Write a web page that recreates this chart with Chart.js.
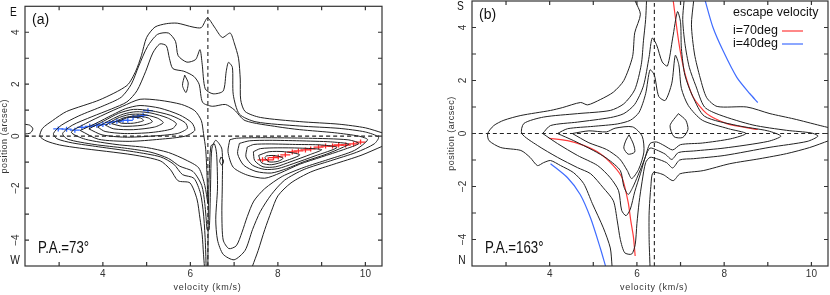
<!DOCTYPE html>
<html>
<head>
<meta charset="utf-8">
<script src="https://cdn.jsdelivr.net/npm/chart.js"></script>
<style>
  body { margin: 0; background: #fff; }
  #wrap { position: relative; width: 830px; height: 295px; }
  canvas { position: absolute; top: 0; }
</style>
</head>
<body>
<div id="wrap">
  <canvas id="chartA" width="415" height="295" style="left:0"></canvas>
  <canvas id="chartB" width="415" height="295" style="left:415px"></canvas>
</div>
<script>
// axes
const xTicks = [3, 4, 5, 6, 7, 8, 9, 10];
const yTicks = [-4, -3, -2, -1, 0, 1, 2, 3, 4];
const xTickLabels = [4, 6, 8, 10];
const yTickLabels = [-4, -2, 0, 2, 4];
const vSys = 6.4;

// ---- panel (a), P.A. = 73 deg : contours [velocity, position]
const aOuter = [[6.32,-5],[6.3,-4.55],[6.27,-3.8],[6.22,-3.18],[6.15,-2.42],[5.99,-1.8],[5.72,-1.72],[5.54,-1.28],[5.31,-0.95],[4.69,-0.72],[3.47,-0.46],[3.01,-0.34],[2.7,-0.18],[2.56,0],[2.62,0.3],[2.85,0.6],[3.17,0.95],[3.93,1.4],[4.55,1.95],[4.75,2.5],[4.88,3.1],[5.0,3.8],[5.19,4.2],[5.45,4.33],[5.7,4.35],[6.06,4.2],[6.25,4.18],[6.39,4.55],[6.55,4.2],[6.73,3.8],[6.91,3.97],[7.0,3.6],[7.1,3.0],[7.14,2.2],[7.15,1.4],[7.25,0.95],[7.6,0.72],[8.5,0.56],[9.4,0.46],[10.0,0.32],[10.4,0.12]];
const aOuterR = [[10.4,-0.38],[9.9,-0.74],[9.28,-1.08],[8.75,-1.38],[8.3,-1.8],[8.0,-2.3],[7.85,-2.9],[7.7,-3.6],[7.55,-4.4],[7.42,-5]];
const aL2 = [[6.36,-5],[6.34,-4],[6.3,-3],[6.23,-2.2],[6.08,-1.62],[5.82,-1.48],[5.62,-1.08],[5.32,-0.8],[4.7,-0.6],[3.9,-0.41],[3.3,-0.26],[2.95,-0.1],[2.87,0.1],[3.05,0.42],[3.45,0.78],[4.0,1.16],[4.42,1.5],[4.65,2.0],[4.82,2.7],[5.02,3.45],[5.25,3.92],[5.5,3.97],[5.66,3.65],[5.72,3.1],[5.92,2.85],[6.12,2.95],[6.22,3.33],[6.27,2.77],[6.34,1.82],[6.52,1.63],[6.75,1.74],[6.82,2.5],[6.87,2.84],[6.96,2.65],[6.98,1.6],[7.12,0.85],[7.5,0.55],[8.5,0.39],[9.4,0.3],[10.0,0.16],[10.3,-0.04],[10.2,-0.3],[9.8,-0.62],[9.2,-0.95],[8.6,-1.28],[8.15,-1.7],[7.85,-2.25],[7.6,-2.9],[7.42,-3.6],[7.25,-4.4],[7.0,-4.76],[6.75,-4.55],[6.62,-4.0],[6.58,-3.2],[6.62,-2.0],[6.6,-0.7],[6.55,-0.3],[6.47,-0.38],[6.43,-1.5],[6.41,-3],[6.4,-5]];
const aL3 = [[6.38,-3.6],[6.33,-2.6],[6.26,-1.9],[6.06,-1.36],[5.76,-1.16],[5.5,-0.86],[5.1,-0.62],[4.5,-0.46],[3.8,-0.32],[3.2,-0.12],[3.08,0.1],[3.3,0.42],[3.75,0.75],[4.2,1.05],[4.55,1.32],[4.78,1.75],[4.98,2.5],[5.14,3.2],[5.3,3.55],[5.45,3.48],[5.52,3.0],[5.6,2.6],[5.85,2.5],[6.08,2.3],[6.2,2.0],[6.28,1.3],[6.5,1.15],[6.8,1.22],[7.0,1.02],[7.25,0.6],[8.0,0.36],[8.5,0.25],[9.3,0.13],[9.85,0.0],[10.05,-0.14],[9.75,-0.55],[9.15,-0.9],[8.6,-1.2],[8.1,-1.55],[7.7,-2.02],[7.45,-2.5],[7.3,-3.1],[7.18,-3.7],[7.05,-4.22],[6.88,-4.33],[6.75,-4.0],[6.72,-3.0],[6.73,-1.8],[6.72,-0.5],[6.58,-0.16],[6.49,-0.5],[6.46,-2.0],[6.43,-3.6],[6.38,-3.6]];
const aL4 = [[6.4,-2.6],[6.33,-1.9],[6.19,-1.22],[5.9,-0.92],[5.5,-0.63],[5.0,-0.44],[4.3,-0.32],[3.6,-0.12],[3.28,0.15],[3.6,0.48],[4.05,0.85],[4.45,1.15],[4.85,1.42],[5.3,1.38],[5.8,1.22],[6.1,0.98],[6.25,0.6],[6.3,0.1],[6.35,-0.5],[6.38,-1.5],[6.4,-2.6]];
const aB1 = [[3.48,0.22],[3.85,0.5],[4.22,0.82],[4.52,1.06],[4.85,1.18],[5.3,1.08],[5.75,0.82],[6.03,0.52],[6.1,0.22],[5.88,0.0],[5.3,-0.12],[4.6,-0.2],[3.9,-0.12],[3.48,0.22]];
const aB2 = [[3.68,0.28],[4.02,0.58],[4.36,0.88],[4.7,1.03],[5.1,0.98],[5.55,0.8],[5.88,0.52],[5.93,0.3],[5.7,0.1],[5.1,0.0],[4.5,-0.04],[3.98,0.05],[3.68,0.28]];
const aB3 = [[3.88,0.35],[4.18,0.63],[4.47,0.85],[4.76,0.94],[5.1,0.89],[5.48,0.7],[5.68,0.48],[5.58,0.28],[5.1,0.14],[4.5,0.1],[4.05,0.18],[3.88,0.35]];
const aB4 = [[4.06,0.42],[4.32,0.68],[4.6,0.83],[4.9,0.84],[5.24,0.7],[5.38,0.52],[5.18,0.35],[4.7,0.25],[4.25,0.28],[4.06,0.42]];
const aB5 = [[4.2,0.48],[4.47,0.7],[4.75,0.78],[5.04,0.7],[5.13,0.55],[4.9,0.42],[4.45,0.38],[4.2,0.48]];
const aB6 = [[4.34,0.56],[4.6,0.73],[4.86,0.7],[4.93,0.6],[4.7,0.5],[4.42,0.5],[4.34,0.56]];
const aR1 = [[6.9,-0.14],[6.86,-0.6],[6.98,-1.2],[7.3,-1.5],[7.7,-1.62],[8.05,-1.42],[8.5,-1.08],[9.0,-0.8],[9.5,-0.52],[9.85,-0.28],[9.6,-0.14],[8.7,-0.08],[7.6,-0.06],[7.05,-0.08],[6.9,-0.14]];
const aR2 = [[7.12,-0.28],[7.08,-0.68],[7.22,-1.12],[7.5,-1.36],[7.85,-1.42],[8.2,-1.25],[8.6,-0.98],[9.1,-0.7],[9.5,-0.42],[9.62,-0.3],[9.2,-0.22],[8.5,-0.18],[7.8,-0.16],[7.35,-0.18],[7.12,-0.28]];
const aR3 = [[7.3,-0.42],[7.27,-0.8],[7.42,-1.12],[7.7,-1.28],[8.0,-1.25],[8.35,-1.06],[8.85,-0.76],[9.35,-0.44],[9.0,-0.34],[8.4,-0.32],[7.8,-0.3],[7.45,-0.32],[7.3,-0.42]];
const aR4 = [[7.44,-0.6],[7.47,-0.94],[7.66,-1.18],[7.95,-1.18],[8.3,-0.98],[8.75,-0.7],[9.0,-0.52],[8.5,-0.46],[8.0,-0.45],[7.6,-0.48],[7.44,-0.6]];
const aR5 = [[7.56,-0.74],[7.63,-1.03],[7.86,-1.1],[8.18,-0.95],[8.5,-0.72],[8.15,-0.6],[7.8,-0.6],[7.56,-0.74]];
const aR6 = [[7.7,-0.84],[7.8,-0.99],[8.0,-0.97],[8.12,-0.85],[7.95,-0.75],[7.74,-0.76],[7.7,-0.84]];
const aDot = [[6.7,-0.8],[6.76,-0.95],[6.72,-1.12],[6.67,-0.97],[6.7,-0.8]];
const aIsle = [[5.87,2.35],[5.95,2.05],[5.9,1.68],[5.82,1.95],[5.87,2.35]];
const aEdge = [[2.2,0.46],[2.33,0.42],[2.4,0.28],[2.34,0.12],[2.2,0.08]];

// peak positions with error bars
const aBlueV = [2.98, 3.17, 3.36, 3.52, 3.70, 3.86, 4.0, 4.16, 4.32, 4.46, 4.57, 4.69, 4.80, 4.92, 5.03];
const aBlueP = [0.28, 0.27, 0.23, 0.34, 0.38, 0.42, 0.45, 0.53, 0.57, 0.61, 0.61, 0.72, 0.76, 0.80, 0.98];
const aRedV = [7.65, 7.78, 7.90, 8.01, 8.17, 8.33, 8.47, 8.63, 8.75, 8.93, 9.09, 9.25, 9.39, 9.55, 9.73, 9.89];
const aRedP = [-0.91, -0.91, -0.83, -0.80, -0.72, -0.61, -0.57, -0.53, -0.49, -0.42, -0.38, -0.38, -0.34, -0.34, -0.30, -0.23];

// ---- panel (b), P.A. = 163 deg
const bOuterL = [[5.96,5],[6.08,4.5],[5.95,3.8],[5.9,2.9],[5.7,2.0],[5.46,1.56],[5.16,1.28],[4.87,1.08],[4.71,1.17],[4.3,0.98],[4.02,0.87],[3.34,0.68],[2.95,0.5],[2.72,0.3],[2.58,0],[2.61,-0.27],[2.88,-0.53],[3.34,-0.64],[3.55,-0.9],[3.72,-1.21],[3.86,-1.1],[4.02,-1.02],[4.25,-1.21],[4.55,-1.48],[4.78,-1.89],[4.98,-2.65],[5.23,-3.56],[5.39,-4.32],[5.43,-5]];
const bOuterR = [[10.4,0.22],[10.2,0.3],[9.6,0.55],[9.05,0.75],[8.52,1.0],[7.84,1.02],[7.6,1.35],[7.45,2.1],[7.32,3.0],[7.25,4.1],[7.3,5]];
const bOuterB = [[6.3,-5],[6.28,-4],[6.28,-3],[6.32,-2],[6.37,-1.48],[6.6,-1.55],[6.83,-1.78],[6.99,-1.52],[7.52,-1.4],[8.13,-1.14],[8.82,-0.95],[9.43,-0.76],[9.96,-0.53],[10.4,-0.27]];
const bL2 = [[6.22,5],[6.2,4.3],[6.15,3.5],[6.1,2.6],[5.95,1.65],[5.7,1.12],[5.39,0.87],[4.64,0.75],[3.86,0.62],[3.41,0.38],[3.36,0],[3.72,-0.45],[4.18,-0.9],[4.64,-1.29],[4.94,-1.52],[5.23,-2.05],[5.46,-2.54],[5.55,-3.3],[5.62,-4.0],[5.72,-4.5],[5.88,-4.55],[5.96,-4.2],[6.0,-3.4],[6.05,-2.6],[6.12,-1.8],[6.2,-1.1],[6.3,-0.9],[6.45,-0.95],[6.68,-1.1],[6.82,-1.3],[6.98,-1.0],[7.3,-0.95],[8.0,-0.83],[9.05,-0.52],[9.9,-0.3],[10.15,-0.1],[10.0,0.02],[9.43,0.12],[8.66,0.32],[7.9,0.7],[7.55,1.0],[7.35,1.8],[7.2,2.5],[7.1,3.4],[7.05,4.3],[7.08,5]];
const bL3 = [[3.84,0],[4.02,0.3],[4.64,0.43],[5.39,0.6],[5.7,0.75],[5.95,1.1],[6.15,1.8],[6.28,2.9],[6.35,3.6],[6.45,3.35],[6.58,2.7],[6.7,2.55],[6.82,3.6],[6.93,4.6],[7.0,4.2],[7.02,3.2],[7.1,2.2],[7.28,1.4],[7.55,0.65],[8.3,0.3],[9.0,0.1],[9.3,-0.1],[9.0,-0.3],[8.0,-0.55],[7.3,-0.66],[6.95,-0.72],[6.8,-0.98],[6.65,-0.78],[6.45,-0.62],[6.3,-0.55],[6.2,-0.85],[6.08,-1.52],[5.95,-2.2],[5.85,-2.85],[5.75,-3.1],[5.65,-2.9],[5.58,-2.16],[5.39,-1.67],[5.1,-1.21],[4.64,-0.83],[4.18,-0.38],[3.84,0]];
const bL4 = [[4.18,0],[4.41,0.18],[5.0,0.27],[5.55,0.36],[5.85,0.5],[6.05,0.8],[6.2,1.5],[6.3,2.4],[6.4,2.2],[6.5,1.4],[6.65,1.25],[6.8,1.9],[6.88,2.95],[6.96,2.6],[7.02,1.7],[7.18,1.05],[7.5,0.5],[8.1,0.18],[8.5,0.0],[8.15,-0.2],[7.5,-0.36],[7.0,-0.42],[6.82,-0.62],[6.62,-0.45],[6.45,-0.32],[6.3,-0.38],[6.18,-0.95],[6.02,-1.6],[5.9,-2.05],[5.8,-2.3],[5.7,-2.0],[5.62,-1.4],[5.32,-0.95],[5.0,-0.64],[4.55,-0.27],[4.18,0]];
const bL5 = [[4.52,0],[4.9,0.1],[5.3,0.06],[5.5,0.2],[5.9,0.25],[6.12,-0.1],[6.16,-0.7],[6.04,-1.35],[5.88,-1.7],[5.78,-1.4],[5.6,-0.95],[5.3,-0.6],[4.9,-0.35],[4.52,0]];
const bL6 = [[5.82,-0.05],[5.92,-0.4],[5.95,-0.7],[5.8,-0.78],[5.7,-0.55],[5.75,-0.25],[5.82,-0.05]];
const bIsle = [[6.95,0.75],[7.12,0.5],[7.17,0.15],[7.05,-0.15],[6.85,-0.12],[6.76,0.3],[6.95,0.75]];

// escape velocity curves
const red70LowV = [3.98, 4.41, 4.78, 5.16, 5.46, 5.66, 5.8, 5.86, 5.92, 5.96];
const red70LowP = [-0.18, -0.27, -0.45, -0.76, -1.21, -1.67, -2.6, -3.3, -3.9, -4.62];
const red70UpV = [6.83, 6.92, 6.99, 7.1, 7.29, 7.6, 8.06, 8.77];
const red70UpP = [5.04, 3.9, 3.14, 2.27, 1.37, 0.75, 0.37, 0.15];
const blue40LowV = [4.02, 4.41, 4.7, 4.94, 5.16, 5.28];
const blue40LowP = [-1.14, -1.67, -2.3, -3.2, -4.32, -5.0];
const blue40UpV = [7.56, 7.74, 7.97, 8.29, 8.59, 8.77];
const blue40UpP = [5.04, 4.02, 3.14, 2.12, 1.5, 1.17];

const RED = '#ff3a3a', BLUE = '#3f6cff', INK = '#222';
const FONT = '"Liberation Sans", Arial, sans-serif';

function pairs(vs, ps) { return vs.map((v, i) => [v, ps[i]]); }

function line(pts, color, width, dash) {
  return {
    data: pts.map(p => ({ x: p[0], y: p[1] })),
    showLine: true, borderColor: color, borderWidth: width,
    borderDash: dash || [], pointRadius: 0, tension: 0.25, fill: false
  };
}

function bars(vs, ps, color) {
  const data = vs.map((v, i) => ({ x: v, y: ps[i] }));
  return [
    { data, showLine: false, pointStyle: 'line', pointRadius: 5, pointBorderColor: color, pointBorderWidth: 1.3 },
    { data, showLine: false, pointStyle: 'line', pointRotation: 90, pointRadius: 2.5, pointBorderColor: color, pointBorderWidth: 1.3 }
  ];
}

function refLines() {
  return [
    line([[2.22, 0], [10.38, 0]], INK, 1.1, [4, 3]),
    line([[vSys, -5], [vSys, 5]], INK, 1.1, [4, 3])
  ];
}

function narrowText(ctx, text, x, y, sx) {
  ctx.save();
  ctx.translate(x, y);
  ctx.scale(sx, 1);
  ctx.fillText(text, 0, 0);
  ctx.restore();
}

function upText(ctx, text, x, y) {
  ctx.save();
  ctx.translate(x, y);
  ctx.rotate(-Math.PI / 2);
  ctx.fillText(text, 0, 0);
  ctx.restore();
}

const framePlugin = {
  id: 'frame',
  afterDraw(chart, args, opts) {
    const { ctx, chartArea: a, scales: { x, y } } = chart;
    ctx.save();
    ctx.strokeStyle = '#333';
    ctx.lineWidth = 1.2;
    ctx.strokeRect(a.left, a.top, a.right - a.left, a.bottom - a.top);
    ctx.beginPath();
    xTicks.forEach(v => {
      const px = x.getPixelForValue(v);
      ctx.moveTo(px, a.bottom); ctx.lineTo(px, a.bottom - 4);
      ctx.moveTo(px, a.top); ctx.lineTo(px, a.top + 4);
    });
    yTicks.forEach(v => {
      const py = y.getPixelForValue(v);
      ctx.moveTo(a.left, py); ctx.lineTo(a.left + 4, py);
      ctx.moveTo(a.right, py); ctx.lineTo(a.right - 4, py);
    });
    ctx.stroke();

    // tick labels
    ctx.fillStyle = '#333';
    ctx.font = '10px ' + FONT;
    ctx.textAlign = 'center';
    ctx.textBaseline = 'middle';
    const fmt = v => (v < 0 ? '\u2212' + Math.abs(v) : String(v));
    xTickLabels.forEach(v => ctx.fillText(fmt(v), x.getPixelForValue(v), a.bottom + 8));
    yTickLabels.forEach(v => upText(ctx, fmt(v), a.left - 9, y.getPixelForValue(v)));

    // axis titles
    ctx.font = '9px ' + FONT;
    ctx.letterSpacing = '0.7px';
    ctx.fillText('velocity (km/s)', (a.left + a.right) / 2 + 4, a.bottom + 22);
    ctx.letterSpacing = '0.5px';
    upText(ctx, 'position (arcsec)', a.left - 20, (a.top + a.bottom) / 2);
    ctx.letterSpacing = '0px';

    // panel labels
    ctx.fillStyle = '#111';
    ctx.font = '12px ' + FONT;
    narrowText(ctx, opts.top, a.left - 11.5, a.top + 6, 0.85);
    narrowText(ctx, opts.bottom, a.left - 10, a.bottom - 5.5, 0.85);
    ctx.textAlign = 'left';
    ctx.font = '14px ' + FONT;
    ctx.fillText(opts.tag, a.left + 7, a.top + 14);
    ctx.font = '17px ' + FONT;
    narrowText(ctx, opts.pa, a.left + 13, a.bottom - 17.5, 0.78);

    if (opts.legend) {
      ctx.font = '12.5px ' + FONT;
      ctx.fillText('escape velocity', a.right - 95, a.top + 12);
      ctx.fillText('i=70deg', a.right - 95, a.top + 30);
      ctx.fillText('i=40deg', a.right - 95, a.top + 43);
      ctx.lineWidth = 1.2;
      ctx.strokeStyle = RED;
      ctx.beginPath(); ctx.moveTo(a.right - 46, a.top + 30); ctx.lineTo(a.right - 25, a.top + 30); ctx.stroke();
      ctx.strokeStyle = BLUE;
      ctx.beginPath(); ctx.moveTo(a.right - 46, a.top + 43); ctx.lineTo(a.right - 25, a.top + 43); ctx.stroke();
    }
    ctx.restore();
  }
};

function makeChart(id, padding, datasets, labels) {
  return new Chart(document.getElementById(id).getContext('2d'), {
    type: 'scatter',
    data: { datasets },
    options: {
      responsive: false,
      animation: false,
      events: [],
      layout: { padding },
      scales: {
        x: { type: 'linear', min: 2.22, max: 10.38, display: false },
        y: { type: 'linear', min: -5, max: 5, display: false }
      },
      plugins: { legend: { display: false }, tooltip: { enabled: false }, frame: labels }
    },
    plugins: [framePlugin]
  });
}

const aContours = [aOuter, aOuterR, aL2, aL3, aL4, aB1, aB2, aB3, aB4, aB5, aB6,
  aR1, aR2, aR3, aR4, aR5, aR6, aDot, aIsle, aEdge];
makeChart('chartA', { left: 25, right: 33, top: 1, bottom: 29 },
  [...refLines(),
   ...aContours.map(c => line(c, INK, 1)),
   ...bars(aBlueV, aBlueP, '#2f66ff'),
   ...bars(aRedV, aRedP, '#ff2a2a')],
  { top: 'E', bottom: 'W', tag: '(a)', pa: 'P.A.=73\u00b0', legend: false });

const bContours = [bOuterL, bOuterR, bOuterB, bL2, bL3, bL4, bL5, bL6, bIsle];
makeChart('chartB', { left: 57, right: 2, top: 1, bottom: 29 },
  [...refLines(),
   ...bContours.map(c => line(c, INK, 1)),
   line(pairs(red70LowV, red70LowP), RED, 1.2),
   line(pairs(red70UpV, red70UpP), RED, 1.2),
   line(pairs(blue40LowV, blue40LowP), BLUE, 1.2),
   line(pairs(blue40UpV, blue40UpP), BLUE, 1.2)],
  { top: 'S', bottom: 'N', tag: '(b)', pa: 'P.A.=163\u00b0', legend: true });
</script>
</body>
</html>
